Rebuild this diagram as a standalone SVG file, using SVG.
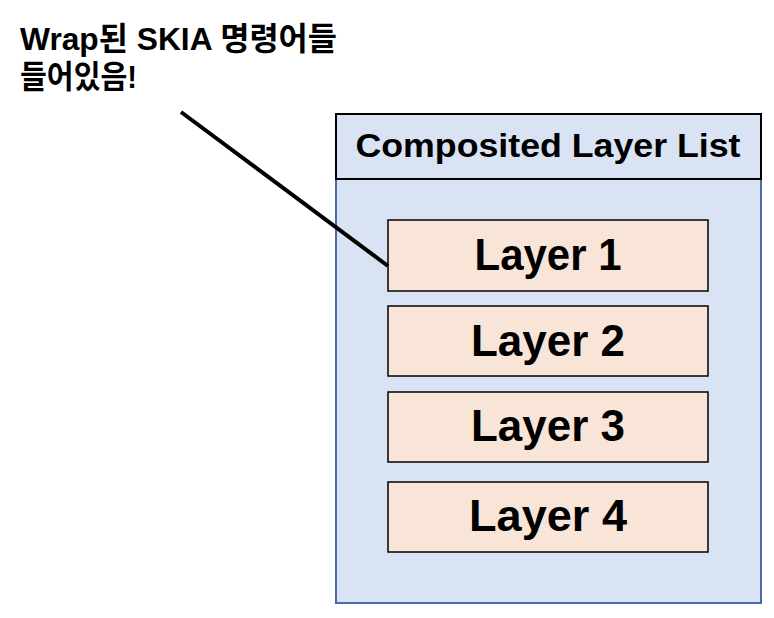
<svg xmlns="http://www.w3.org/2000/svg" width="774" height="618" viewBox="0 0 774 618">
<style>
.t{font-family:"Liberation Sans","Noto Sans CJK KR",sans-serif;font-weight:bold;fill:#000}
.lay{fill:#f8e5d8;stroke:#000;stroke-width:1.5}
.lt{font-size:45px;text-anchor:middle}
</style>
<rect width="774" height="618" fill="#fff"/>
<g id="note">
<text class="t" x="20" y="50" font-size="32" textLength="317" lengthAdjust="spacingAndGlyphs">Wrap된 SKIA 명령어들</text>
<text class="t" x="20" y="88" font-size="32" textLength="117" lengthAdjust="spacingAndGlyphs">들어있음!</text>
</g>
<g id="list">
<rect x="336" y="114" width="425" height="489" fill="#dae3f3" stroke="#4a6aa8" stroke-width="2"/>
<rect x="336" y="114" width="425" height="65" fill="#dae3f3" stroke="#000" stroke-width="2"/>
<text class="t" x="548" y="157" font-size="34" text-anchor="middle" textLength="385" lengthAdjust="spacingAndGlyphs">Composited Layer List</text>
</g>
<g id="layer1"><rect class="lay" x="388" y="220" width="320" height="71"/><text class="t lt" x="548" y="270" textLength="147" lengthAdjust="spacingAndGlyphs">Layer 1</text></g>
<g id="layer2"><rect class="lay" x="388" y="306" width="320" height="70"/><text class="t lt" x="548" y="356" textLength="154" lengthAdjust="spacingAndGlyphs">Layer 2</text></g>
<g id="layer3"><rect class="lay" x="388" y="392" width="320" height="70"/><text class="t lt" x="548" y="441" textLength="154" lengthAdjust="spacingAndGlyphs">Layer 3</text></g>
<g id="layer4"><rect class="lay" x="388" y="482" width="320" height="70"/><text class="t lt" x="548" y="531" textLength="158" lengthAdjust="spacingAndGlyphs">Layer 4</text></g>
<g id="connectors">
<line x1="181" y1="112" x2="388" y2="266" stroke="#000" stroke-width="4"/>
</g>
</svg>
